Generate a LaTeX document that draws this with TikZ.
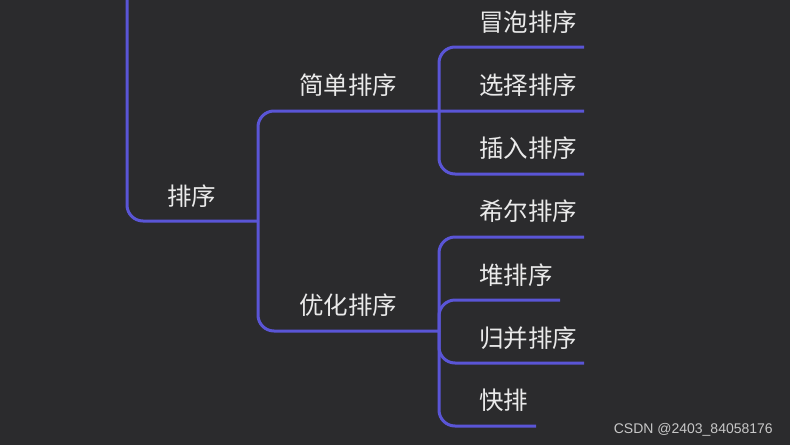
\documentclass[tikz,border=0pt]{standalone}
\usepackage{fontspec}
\setmainfont{Liberation Sans}
\newfontfamily\cjk{Noto Sans CJK SC}
\definecolor{bg}{HTML}{2B2B2D}
\definecolor{ln}{HTML}{5A55D6}
\definecolor{tx}{HTML}{EAEAEA}
\definecolor{wm}{HTML}{C8C8C8}
\begin{document}
\begin{tikzpicture}[x=1pt,y=-1pt,
  branch/.style={draw=ln, line width=3pt, rounded corners=16pt},
  lbl/.style={text=tx, font=\cjk\fontsize{24.5}{29}\selectfont, inner sep=0pt, anchor=west},
  wmark/.style={text=wm, font=\fontsize{14}{16}\selectfont, inner sep=0pt, anchor=east}]
\fill[bg] (0,0) rectangle (790,445);
\useasboundingbox (0,0) rectangle (790,445);

% text nodes
\node[lbl] (root) at (167,196) {排序};
\node[lbl] (simple) at (299,85) {简单排序};
\node[lbl] (opt) at (299,305) {优化排序};
\node[lbl] (bubble) at (479,22) {冒泡排序};
\node[lbl] (select) at (479,85) {选择排序};
\node[lbl] (insert) at (479,148) {插入排序};
\node[lbl] (shell) at (479,211) {希尔排序};
\node[lbl] (heap) at (479,275) {堆排序};
\node[lbl] (merge) at (479,338) {归并排序};
\node[lbl] (quick) at (479,400) {快排};
\node[wmark] (wm) at (773,430) {CSDN @2403\_84058176};

% junctions and line ends
\coordinate (top) at (127,-5);
\coordinate (j0) at (258,221);
\coordinate (j1) at (439,111);
\coordinate (j2) at (439,331);
\coordinate (e1) at (584,111);
\coordinate (e0) at (584,47);
\coordinate (e2) at (584,174);
\coordinate (e3) at (584,237);
\coordinate (e4) at (560,300);
\coordinate (e5) at (584,363);
\coordinate (e6) at (536,426);

% connectors
\draw[branch] (top) |- (j0);
\draw[branch] (j0) |- (j1) -- (e1);
\draw[branch] (j0) |- (j2);
\draw[branch] (j1) |- (e0);
\draw[branch] (j1) |- (e2);
\draw[branch] (j2) |- (e3);
\draw[branch] (j2) |- (e4);
\draw[branch] (j2) |- (e5);
\draw[branch] (j2) |- (e6);
\end{tikzpicture}
\end{document}
